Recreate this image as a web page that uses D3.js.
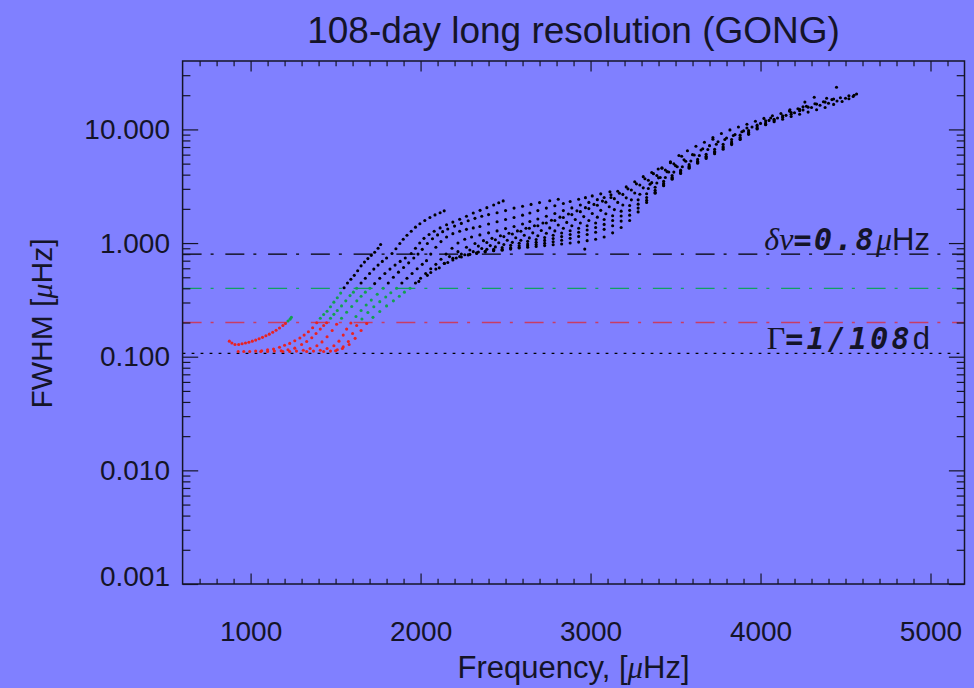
<!DOCTYPE html>
<html><head><meta charset="utf-8">
<script src="https://cdn.jsdelivr.net/npm/d3@7"></script>
<style>html,body{margin:0;padding:0;background:#8080ff;}svg{display:block}</style>
</head><body><svg id="c" width="974" height="688"></svg>
<script>
// ---------- DATA (frequency in µHz, FWHM in µHz) ----------
const ridge1 = [[875,0.137],[890,0.132],[908,0.128],[930,0.128],[950,0.130],[970,0.132],[990,0.134],[1010,0.137],[1030,0.140],[1050,0.144],[1070,0.148],[1090,0.153],[1110,0.158],[1130,0.164],[1150,0.171],[1170,0.179],[1190,0.188],[1205,0.196],[1220,0.206],[1232,0.214],[1240,0.222]];
const ridge2 = [[927,0.111],[960,0.111],[995,0.111],[1030,0.112],[1065,0.113],[1100,0.115],[1135,0.117],[1170,0.121],[1200,0.126],[1230,0.131],[1260,0.138],[1290,0.146],[1315,0.155],[1340,0.166],[1365,0.180],[1389,0.199],[1410,0.218],[1430,0.235],[1450,0.251],[1470,0.275],[1490,0.302],[1510,0.330],[1530,0.363],[1550,0.405],[1570,0.445],[1590,0.48],[1610,0.52],[1630,0.57],[1650,0.63],[1670,0.68],[1690,0.73],[1710,0.78],[1730,0.83],[1750,0.90],[1765,0.97]];
const ridge3 = [[1060,0.111],[1100,0.111],[1140,0.112],[1180,0.113],[1220,0.115],[1260,0.119],[1300,0.128],[1330,0.136],[1360,0.147],[1385,0.160],[1410,0.175],[1430,0.188],[1447,0.199],[1470,0.218],[1490,0.236],[1510,0.255],[1535,0.28],[1560,0.31],[1585,0.345],[1605,0.37],[1624,0.40],[1650,0.445],[1675,0.49],[1700,0.54],[1725,0.59],[1750,0.64],[1775,0.69],[1800,0.74],[1832,0.81],[1855,0.89],[1878,0.99],[1898,1.08],[1920,1.17],[1945,1.27],[1970,1.38],[1996,1.48],[2025,1.58],[2055,1.68],[2085,1.77],[2115,1.85],[2139,1.92]];
const ridge4 = [[1190,0.111],[1230,0.111],[1270,0.112],[1310,0.114],[1350,0.118],[1390,0.125],[1420,0.135],[1450,0.150],[1480,0.170],[1506,0.193],[1535,0.218],[1565,0.246],[1595,0.277],[1625,0.31],[1650,0.34],[1675,0.37],[1702,0.40],[1730,0.44],[1760,0.49],[1790,0.54],[1820,0.59],[1850,0.64],[1880,0.69],[1910,0.74],[1945,0.81],[1970,0.90],[1995,1.00],[2020,1.10],[2050,1.19],[2080,1.27],[2115,1.36],[2153,1.45],[2190,1.53],[2230,1.62],[2270,1.72],[2310,1.84],[2350,1.94],[2390,2.05],[2430,2.16],[2460,2.26],[2486,2.35]];
const ridge5 = [[1330,0.111],[1370,0.112],[1410,0.114],[1450,0.118],[1490,0.125],[1520,0.137],[1545,0.155],[1565,0.175],[1590,0.198],[1620,0.226],[1650,0.255],[1680,0.285],[1710,0.315],[1745,0.355],[1780,0.40],[1810,0.445],[1840,0.50],[1870,0.555],[1900,0.61],[1930,0.67],[1960,0.74],[1985,0.80],[2010,0.88],[2040,0.99],[2070,1.09],[2100,1.18],[2130,1.26],[2160,1.33],[2200,1.41],[2240,1.49],[2280,1.57],[2320,1.65],[2360,1.72],[2400,1.78],[2450,1.85],[2500,1.93],[2550,2.03],[2600,2.11],[2650,2.19],[2700,2.27],[2760,2.36],[2810,2.43]];
const ridge6 = [[1430,0.111],[1470,0.112],[1510,0.115],[1545,0.122],[1575,0.136],[1600,0.160],[1624,0.188],[1655,0.215],[1690,0.245],[1725,0.275],[1760,0.305],[1795,0.335],[1825,0.365],[1859,0.40],[1890,0.445],[1920,0.49],[1950,0.54],[1980,0.595],[2010,0.65],[2035,0.70],[2060,0.80],[2090,0.92],[2120,1.03],[2153,1.13],[2190,1.21],[2230,1.27],[2270,1.32],[2310,1.36],[2349,1.40],[2400,1.47],[2450,1.54],[2500,1.61],[2550,1.68],[2600,1.76],[2643,1.84],[2690,1.93],[2740,2.03],[2790,2.13],[2840,2.23],[2880,2.32],[2930,2.43],[2970,2.51],[3010,2.60],[3060,2.71],[3114,2.83]];
const ridge7 = [[1500,0.113],[1540,0.118],[1580,0.128],[1615,0.145],[1650,0.170],[1683,0.196],[1720,0.222],[1760,0.25],[1800,0.28],[1840,0.31],[1875,0.34],[1905,0.37],[1938,0.40],[1970,0.445],[2000,0.49],[2030,0.54],[2060,0.595],[2090,0.65],[2120,0.72],[2150,0.80],[2185,0.90],[2220,1.00],[2260,1.08],[2300,1.13],[2349,1.18],[2400,1.23],[2450,1.28],[2500,1.34],[2550,1.40],[2600,1.47],[2643,1.55],[2690,1.63],[2740,1.72],[2790,1.82],[2840,1.93],[2890,2.04],[2940,2.16],[2990,2.28],[3040,2.41],[3080,2.52],[3120,2.66],[3160,2.86],[3210,3.12],[3260,3.46],[3310,3.84],[3360,4.18],[3398,4.48]];
const ridge8 = [[1990,0.46],[2040,0.52],[2090,0.59],[2140,0.665],[2190,0.735],[2240,0.80],[2290,0.87],[2340,0.94],[2390,1.01],[2440,1.07],[2490,1.14],[2540,1.20],[2590,1.27],[2640,1.35],[2690,1.42],[2740,1.50],[2790,1.58],[2840,1.68],[2890,1.78],[2940,1.89],[2990,2.01],[3040,2.15],[3090,2.29],[3140,2.46],[3190,2.68],[3240,2.93],[3290,3.24],[3340,3.57],[3390,3.93],[3440,4.40],[3490,4.98],[3536,5.80]];
const ridge9 = [[2060,0.55],[2110,0.605],[2160,0.675],[2210,0.74],[2260,0.79],[2310,0.84],[2360,0.895],[2410,0.95],[2460,1.005],[2510,1.06],[2560,1.115],[2610,1.17],[2660,1.23],[2710,1.29],[2760,1.36],[2810,1.44],[2860,1.52],[2910,1.61],[2960,1.71],[3010,1.82],[3060,1.94],[3110,2.09],[3160,2.28],[3210,2.50],[3260,2.76],[3310,3.06],[3360,3.40],[3410,3.78],[3460,4.22],[3510,4.70],[3560,5.25],[3610,5.95],[3660,6.75],[3720,8.2]];
const ridge10 = [[2140,0.66],[2190,0.71],[2240,0.755],[2290,0.795],[2340,0.835],[2390,0.88],[2440,0.925],[2490,0.97],[2540,1.015],[2590,1.06],[2640,1.11],[2690,1.16],[2740,1.22],[2790,1.28],[2840,1.35],[2890,1.42],[2940,1.50],[2990,1.58],[3040,1.69],[3090,1.81],[3140,1.97],[3190,2.16],[3240,2.40],[3290,2.69],[3340,3.02],[3390,3.38],[3440,3.78],[3490,4.21],[3540,4.70],[3590,5.28],[3640,5.90],[3690,6.65],[3740,7.40],[3790,8.15],[3840,8.85],[3890,9.55],[3920,10.3]];
const ridge11 = [[2230,0.76],[2280,0.785],[2330,0.81],[2380,0.845],[2430,0.88],[2480,0.915],[2530,0.955],[2580,0.995],[2630,1.035],[2680,1.075],[2730,1.12],[2780,1.17],[2830,1.225],[2880,1.285],[2930,1.35],[2980,1.42],[3030,1.50],[3080,1.61],[3130,1.74],[3180,1.91],[3230,2.14],[3280,2.40],[3330,2.72],[3380,3.10],[3430,3.50],[3480,3.93],[3530,4.38],[3580,4.90],[3630,5.45],[3680,6.05],[3730,6.70],[3780,7.40],[3830,8.15],[3880,8.90],[3930,9.75],[3980,10.9],[4030,11.9],[4060,12.6]];
const ridge12 = [[2330,0.82],[2380,0.835],[2430,0.855],[2480,0.88],[2530,0.91],[2580,0.945],[2630,0.98],[2680,1.015],[2730,1.055],[2780,1.095],[2830,1.14],[2880,1.19],[2930,1.245],[2980,1.305],[3030,1.37],[3080,1.46],[3130,1.58],[3180,1.73],[3230,1.94],[3280,2.20],[3330,2.52],[3380,2.92],[3430,3.35],[3480,3.80],[3530,4.25],[3580,4.75],[3630,5.25],[3680,5.80],[3730,6.40],[3780,7.05],[3830,7.75],[3880,8.50],[3930,9.40],[3980,10.5],[4030,11.4],[4080,12.3],[4130,13.2],[4180,14.1],[4230,15.0],[4250,15.8]];
const ridge13 = [[2430,0.86],[2480,0.865],[2530,0.885],[2580,0.915],[2630,0.945],[2680,0.97],[2730,0.995],[2780,1.025],[2830,1.06],[2880,1.10],[2930,1.145],[2980,1.19],[3030,1.245],[3080,1.32],[3130,1.42],[3180,1.56],[3230,1.76],[3280,2.03],[3330,2.38],[3380,2.80],[3430,3.25],[3480,3.70],[3530,4.15],[3580,4.65],[3630,5.15],[3680,5.70],[3730,6.25],[3780,6.85],[3830,7.50],[3880,8.25],[3930,9.15],[3980,10.2],[4030,11.1],[4080,12.0],[4130,12.8],[4180,13.6],[4230,14.6],[4280,15.7],[4330,16.7],[4380,17.4],[4430,18.5]];
const ridge14 = [[2530,0.895],[2580,0.905],[2630,0.92],[2680,0.935],[2730,0.95],[2780,0.965],[2830,0.98],[2880,1.0],[2930,1.02],[2980,1.05],[3030,1.08],[3080,1.13],[3130,1.23],[3180,1.37],[3230,1.58],[3280,1.88],[3330,2.28],[3380,2.75],[3430,3.20],[3480,3.65],[3530,4.10],[3580,4.55],[3630,5.05],[3680,5.55],[3730,6.10],[3780,6.70],[3830,7.35],[3880,8.15],[3930,9.05],[3980,10.1],[4030,11.0],[4080,11.7],[4130,12.3],[4180,13.0],[4230,13.6],[4280,14.2],[4330,14.9],[4380,15.6],[4430,16.6],[4480,17.6],[4520,18.6],[4545,19.5],[4565,20.5]];
const ridge15 = [[3420,4.6],[3470,5.2],[3520,5.9],[3570,6.5],[3620,7.1],[3670,7.7],[3720,8.5],[3770,9.2],[3820,9.9],[3870,10.5],[3920,11.1],[3970,11.8],[4020,12.5],[4070,13.2],[4120,13.8],[4170,14.5],[4220,15.2],[4270,16.0],[4320,16.8],[4370,17.5],[4420,18.3],[4470,19.0],[4520,19.8]];
const ridge16 = [[3350,3.3],[3400,3.75],[3450,4.25],[3500,4.8],[3550,5.4],[3600,6.0],[3650,6.6],[3700,7.2],[3750,7.8],[3800,8.4],[3850,9.0],[3900,9.7],[3950,10.5],[4000,11.3],[4050,12.0],[4100,12.6],[4150,13.3],[4200,14.0],[4250,14.8],[4300,15.6],[4350,16.3],[4400,17.0],[4450,17.8],[4500,18.8],[4550,20.0]];
const ridge17 = [[2170,0.76],[2220,0.84],[2270,0.92],[2320,0.99],[2370,1.05],[2420,1.10],[2470,1.16],[2520,1.22],[2570,1.28],[2620,1.35],[2670,1.42],[2720,1.50],[2770,1.59],[2820,1.69],[2870,1.80],[2920,1.92],[2970,2.05],[3020,2.19],[3070,2.34],[3120,2.52],[3170,2.74],[3220,3.00],[3270,3.32],[3320,3.68],[3370,4.08],[3420,4.55],[3470,5.1]];
const outliers = [[4447,23.5],[4261,17.4],[4316,19.2],[4389,18.8],[4173,14.9],[2966,0.885]];

const xMajorTicks = [1000, 2000, 3000, 4000, 5000];
const yMajorTicks = [0.001, 0.01, 0.1, 1, 10];
const yTickLabels = ["0.001", "0.010", "0.100", "1.000", "10.000"];
const refLineValues = [0.8, 0.4, 0.2, 0.107];   // δν=0.8µHz and its halvings, Γ=1/108d

const titleText = "108-day long resolution (GONG)";

// ---------- DRAWING ----------
const W = 974, H = 688;
const L = 182.6, R = 964.5, T = 61, B = 584;
const x = d3.scaleLinear().domain([600, 5200]).range([L, R]);
const y = d3.scaleLog().domain([0.001, 40]).range([B, T]);
const svg = d3.select('#c');
svg.append('rect').attr('width', W).attr('height', H).attr('fill', '#8080ff');

const sans = "'Liberation Sans', Arial, Helvetica, sans-serif";
const serif = "'Liberation Serif', 'Times New Roman', serif";
const mono = "'DejaVu Sans Mono', 'Liberation Mono', monospace";
const ink = '#141428';

// reference lines
const refColors = ['#000000', '#12a060', '#c83c64', '#000000'];
const refDash = ['19,9,3,11.75', '19,9,3,11.75', '19,9,3,11.75', '2.8,6.2'];
svg.append('g').selectAll('line').data(refLineValues).join('line')
  .attr('x1', L).attr('x2', R)
  .attr('y1', d => y(d)).attr('y2', d => y(d))
  .attr('stroke', (d, i) => refColors[i])
  .attr('stroke-width', 1.3)
  .attr('stroke-dasharray', (d, i) => refDash[i]);

// points
const ridges = [ridge1, ridge2, ridge3, ridge4, ridge5, ridge6, ridge7, ridge8, ridge9, ridge10, ridge11, ridge12, ridge13, ridge14, ridge15, ridge16, ridge17];
const pts = ridges.flat().concat(outliers);
svg.append('g').selectAll('circle').data(pts).join('circle')
  .attr('cx', d => x(d[0])).attr('cy', d => y(d[1])).attr('r', 1.55)
  .attr('fill', d => d[1] > 0.4 ? '#000' : (d[1] > 0.2 ? '#14a050' : '#e82222'));

// axes
const minorX = d3.range(700, 5200, 100).filter(v => v % 1000 !== 0);
const minorY = [];
[-3, -2, -1, 0, 1].forEach(e => { for (let k = 2; k <= 9; k++) { const v = k * Math.pow(10, e); if (v < 40) minorY.push(v); } });

function styleAxis(g) {
  g.select('.domain').remove();
  g.selectAll('.tick line').attr('stroke', ink).attr('stroke-width', 1.2);
  g.selectAll('text').attr('fill', ink).attr('font-family', sans).attr('font-size', 28);
}
svg.append('g').attr('transform', `translate(0,${B})`)
  .call(d3.axisBottom(x).tickValues(xMajorTicks).tickSize(-10.5).tickPadding(37).tickFormat(d3.format('d'))).call(styleAxis);
svg.append('g').attr('transform', `translate(0,${B})`)
  .call(d3.axisBottom(x).tickValues(minorX).tickSize(-5.2).tickFormat('')).call(styleAxis);
svg.append('g').attr('transform', `translate(0,${T})`)
  .call(d3.axisTop(x).tickValues(xMajorTicks).tickSize(-10.5).tickFormat('')).call(styleAxis);
svg.append('g').attr('transform', `translate(0,${T})`)
  .call(d3.axisTop(x).tickValues(minorX).tickSize(-5.2).tickFormat('')).call(styleAxis);
const gl = svg.append('g').attr('transform', `translate(${L},0)`)
  .call(d3.axisLeft(y).tickValues(yMajorTicks).tickSize(-15.6).tickPadding(12.6).tickFormat((d, i) => yTickLabels[i])).call(styleAxis);
gl.selectAll('.tick text').filter(d => d === 0.001).attr('transform', 'translate(0,-7)');
svg.append('g').attr('transform', `translate(${L},0)`)
  .call(d3.axisLeft(y).tickValues(minorY).tickSize(-7.8).tickFormat('')).call(styleAxis);
svg.append('g').attr('transform', `translate(${R},0)`)
  .call(d3.axisRight(y).tickValues(yMajorTicks).tickSize(-15.6).tickFormat('')).call(styleAxis);
svg.append('g').attr('transform', `translate(${R},0)`)
  .call(d3.axisRight(y).tickValues(minorY).tickSize(-7.8).tickFormat('')).call(styleAxis);

svg.append('rect').attr('x', L).attr('y', T).attr('width', R - L).attr('height', B - T)
  .attr('fill', 'none').attr('stroke', ink).attr('stroke-width', 1.5);

// title
svg.append('text').attr('x', (L + R) / 2).attr('y', 43).attr('text-anchor', 'middle')
  .attr('font-family', sans).attr('font-size', 37).attr('fill', ink).text(titleText);

// x label
const xl = svg.append('text').attr('x', (L + R) / 2).attr('y', 678).attr('text-anchor', 'middle')
  .attr('font-family', sans).attr('font-size', 31).attr('fill', ink);
xl.append('tspan').text('Frequency, [');
xl.append('tspan').attr('font-family', serif).attr('font-style', 'italic').text('\u03bc');
xl.append('tspan').text('Hz]');

// y label
const yl = svg.append('text').attr('transform', 'translate(52,323.5) rotate(-90)').attr('text-anchor', 'middle')
  .attr('font-family', sans).attr('font-size', 30).attr('fill', ink);
yl.append('tspan').text('FWHM [');
yl.append('tspan').attr('font-family', serif).attr('font-style', 'italic').text('\u03bc');
yl.append('tspan').text('Hz]');

// annotations
const a1 = svg.append('text').attr('x', 930).attr('y', 250).attr('text-anchor', 'end').attr('fill', ink).attr('font-size', 32);
a1.append('tspan').attr('font-family', serif).attr('font-style', 'italic').text('\u03b4\u03bd');
a1.append('tspan').attr('font-family', mono).attr('font-weight', 'bold').attr('font-style', 'oblique').attr('font-size', 30).attr('letter-spacing', 2.6).text('=0.8');
a1.append('tspan').attr('font-family', serif).attr('font-style', 'italic').attr('letter-spacing', 0).text('\u03bc');
a1.append('tspan').attr('font-family', sans).attr('font-size', 31).text('Hz');

const a2 = svg.append('text').attr('x', 930).attr('y', 349).attr('text-anchor', 'end').attr('fill', ink).attr('font-size', 32);
a2.append('tspan').attr('font-family', serif).text('\u0393');
a2.append('tspan').attr('font-family', mono).attr('font-weight', 'bold').attr('font-style', 'oblique').attr('font-size', 30).attr('letter-spacing', 3.2).text('=1/108');
a2.append('tspan').attr('font-family', sans).attr('font-size', 31).attr('letter-spacing', 0).text('d');
</script>
</body></html>
